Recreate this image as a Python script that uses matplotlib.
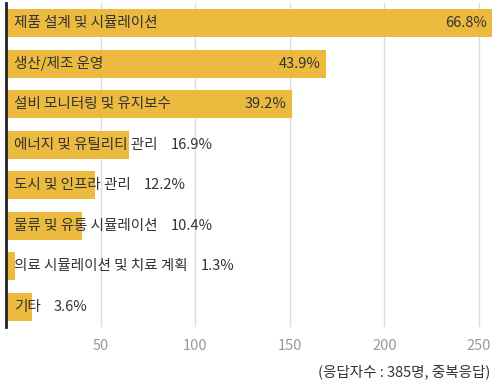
import matplotlib
matplotlib.use("Agg")
import matplotlib.pyplot as plt

plt.rcParams['font.family'] = ['Noto Sans CJK KR', 'DejaVu Sans']

categories = ["제품 설계 및 시뮬레이션", "생산/제조 운영", "설비 모니터링 및 유지보수",
              "에너지 및 유틸리티 관리", "도시 및 인프라 관리", "물류 및 유통 시뮬레이션",
              "의료 시뮬레이션 및 치료 계획", "기타"]
counts = [257, 169, 151, 65, 47, 40, 5, 14]
percents = ["66.8%", "43.9%", "39.2%", "16.9%", "12.2%", "10.4%", "1.3%", "3.6%"]
ticks = [50, 100, 150, 200, 250]
caption = "(응답자수 : 385명, 중복응답)"

W, H = 496, 385
fig = plt.figure(figsize=(W/100, H/100), dpi=100)
ax = fig.add_axes([6/W, 1 - 327/H, (496-6)/W, (327-3)/H])

bar_color = "#EBBA3F"
text_color = "#333333"
y = list(range(len(categories)))
ax.barh(y, counts, height=0.69, color=bar_color, zorder=2)
ax.set_ylim(len(categories) - 0.5, -0.5)
ax.set_xlim(0, 259)
ax.set_xticks(ticks)
ax.set_xticklabels([str(t) for t in ticks])
ax.tick_params(axis='x', length=0, colors="#999999", labelsize=10.5, pad=9)
ax.set_yticks([])
ax.grid(axis='x', color="#dddddd", linewidth=1, zorder=0)
for s in ["top", "right", "bottom"]:
    ax.spines[s].set_visible(False)
ax.spines["left"].set_color("#222222")
ax.spines["left"].set_linewidth(2)
ax.spines["left"].set_zorder(3)

fig.canvas.draw()
renderer = fig.canvas.get_renderer()
fs = 10.5
for i, (c, v, p) in enumerate(zip(categories, counts, percents)):
    t = ax.annotate(c, xy=(0, i), xytext=(6, 0), textcoords="offset points",
                    va="center", ha="left", fontsize=fs, color=text_color, zorder=4)
    bb = t.get_window_extent(renderer)
    bar_end_px = ax.transData.transform((v, i))[0]
    if bar_end_px - bb.x1 > 60:
        ax.annotate(p, xy=(v, i), xytext=(-4, 0), textcoords="offset points",
                    va="center", ha="right", fontsize=fs, color=text_color, zorder=4)
    else:
        xd = ax.transData.inverted().transform((bb.x1 + 13, 0))[0]
        ax.annotate(p, xy=(xd, i), va="center", ha="left", fontsize=fs,
                    color=text_color, zorder=4)

fig.text(490/W, 1 - 372/H, caption, ha="right", va="center", fontsize=10.5, color=text_color)
fig.savefig("out.png", dpi=100)
